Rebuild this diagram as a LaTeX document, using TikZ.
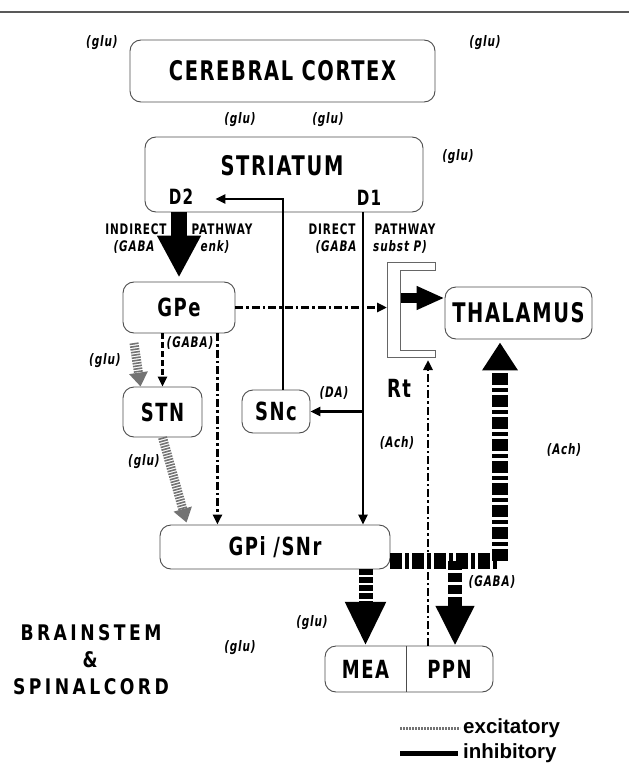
\documentclass[tikz,border=0pt]{standalone}
\usepackage{fontspec}
\setmainfont{DejaVu Sans}
\newfontfamily\diagfont[FakeStretch=0.72, LetterSpace=6]{DejaVu Sans}
\newfontfamily\widefont[FakeStretch=0.8, LetterSpace=16]{DejaVu Sans}
\newfontfamily\legendfont{Liberation Sans}
\usetikzlibrary{arrows.meta,positioning,calc}
\tikzset{
    nucleusbox/.style={draw=black!70, line width=0.9pt, rounded corners=11pt, inner sep=0pt},
    bigname/.style={font=\diagfont\bfseries\fontsize{27}{27}\selectfont, inner sep=0pt},
    nucleusname/.style={font=\diagfont\bfseries\fontsize{25}{25}\selectfont, inner sep=0pt},
    receptorname/.style={font=\diagfont\bfseries\fontsize{21}{21}\selectfont, inner sep=0pt},
    regionname/.style={font=\widefont\bfseries\fontsize{21.5}{21.5}\selectfont, inner sep=0pt},
    pathlabel/.style={font=\diagfont\bfseries\fontsize{14.5}{14.5}\selectfont, inner sep=0pt},
    transmitter/.style={font=\diagfont\bfseries\itshape\fontsize{14.5}{14.5}\selectfont, inner sep=0pt},
    legendtext/.style={font=\legendfont\bfseries\fontsize{20.5}{20.5}\selectfont, inner sep=0pt, anchor=west},
    thinarrow/.style={-{Triangle[length=10pt, width=9pt]}, line width=2.8pt},
    dashdotarrow/.style={thinarrow, dash pattern=on 8pt off 3pt on 2.5pt off 3pt},
    dashedarrow/.style={thinarrow, line width=2.3pt, dash pattern=on 6pt off 3pt},
    fatarrow/.style={line width=#1, line join=miter},
    gababand/.style={line width=16pt, dash pattern=on 12pt off 3pt on 4pt off 3pt},
    excitband/.style={draw=black!55, line width=9pt, dash pattern=on 1.6pt off 1.2pt,
        -{Triangle[length=14pt, width=18pt]}},
    bracketline/.style={draw=black!60, line width=0.9pt}
}

\begin{document}
\begin{tikzpicture}[x=1pt, y=-1pt]
    \useasboundingbox (0,0) rectangle (629,770);
    \draw[black!65, line width=1.2pt] (0,12) -- (629,12);

    % nuclei
    \node[nucleusbox, bigname, minimum width=305pt, minimum height=62pt] (cortex) at (282.5,71) {CEREBRAL CORTEX};
    \node[nucleusbox, minimum width=278pt, minimum height=75pt] (striatum) at (284,174.5) {};
    \node[bigname] (striatumname) at (282,166) {STRIATUM};
    \node[receptorname] (d2) at (181,197) {D2};
    \node[receptorname] (d1) at (369,198) {D1};
    \node[nucleusbox, nucleusname, minimum width=112pt, minimum height=51pt] (gpe) at (179,307.5) {GPe};
    \node[nucleusbox, nucleusname, minimum width=79pt, minimum height=50pt] (stn) at (162.5,412) {STN};
    \node[nucleusbox, nucleusname, minimum width=68pt, minimum height=43pt] (snc) at (276,411.5) {SNc};
    \node[nucleusbox, bigname, minimum width=147pt, minimum height=52pt] (thal) at (518.5,313) {THALAMUS};
    \node[nucleusbox, nucleusname, minimum width=230pt, minimum height=44pt] (gpi) at (275,547) {GPi /SNr};
    \node[nucleusbox, minimum width=168pt, minimum height=46pt] (brainnuclei) at (409,669) {};
    \node[nucleusname, minimum width=81pt, minimum height=46pt] (mea) at (365.5,669) {MEA};
    \node[nucleusname, minimum width=87pt, minimum height=46pt] (ppn) at (449.5,669) {PPN};
    \draw[draw=black!70, line width=0.9pt] (mea.north east) -- (mea.south east);

    % reticular nucleus
    \draw[bracketline] (435,262) -- (387,262) -- (387,357) -- (435,357) -- (435,350)
        -- (400,350) -- (400,270) -- (435,270) -- cycle;
    \coordinate (rtleft) at (387,262);
    \coordinate (rtfoot) at (428,357);
    \coordinate (rtout) at (401,298);
    \node[nucleusname] (rt) at (399,388) {Rt};

    \node[regionname] (brainstem) at (91,633) {BRAINSTEM};
    \node[regionname] (amp) at (90,660) {\&};
    \node[regionname] (spinal) at (91,687) {SPINALCORD};

    % pathway labels
    \node[pathlabel] (indirect) at (136,229) {INDIRECT};
    \node[pathlabel] (indpath) at (222,229) {PATHWAY};
    \node[transmitter] (indgaba) at (134,247) {(GABA};
    \node[transmitter] (indenk) at (215,247) {enk)};
    \node[pathlabel] (direct) at (332,229) {DIRECT};
    \node[pathlabel] (dirpath) at (405,229) {PATHWAY};
    \node[transmitter] (dirgaba) at (336,247) {(GABA};
    \node[transmitter] (dirsubp) at (400,247) {subst P)};

    % transmitters
    \node[transmitter] (glu1) at (102,43) {(glu)};
    \node[transmitter] (glu2) at (485,43) {(glu)};
    \node[transmitter] (glu3) at (240,120) {(glu)};
    \node[transmitter] (glu4) at (328,120) {(glu)};
    \node[transmitter] (glu5) at (458,157) {(glu)};
    \node[transmitter] (glu6) at (105,361) {(glu)};
    \node[transmitter] (glu7) at (144,462) {(glu)};
    \node[transmitter] (glu8) at (312,623) {(glu)};
    \node[transmitter] (glu9) at (240,648) {(glu)};
    \node[transmitter] (gpegaba) at (190,343) {(GABA)};
    \node[transmitter] (da) at (334,393) {(DA)};
    \node[transmitter] (achrt) at (397,443) {(Ach)};
    \node[transmitter] (achthal) at (564,450) {(Ach)};
    \node[transmitter] (gpigaba) at (492,582) {(GABA)};

    % striatal outputs
    \draw[fatarrow=16pt, -{Triangle[length=42pt, width=41pt]}, shorten >=4pt]
        (striatum.south -| gpe.north) -- (gpe.north);
    \coordinate (directx) at (363,212);
    \draw[thinarrow] (directx) -- (directx |- gpi.north);
    \draw[thinarrow] (directx |- snc.east) -- (snc.east);
    \draw[thinarrow] ($(snc.north)+(7,0)$) |- ($(d2.east)+(22,2)$);

    % GPe outputs
    \coordinate (gpeout) at ($(gpe.south east)+(-18,0)$);
    \draw[dashedarrow] (stn.north |- gpe.south) -- (stn.north);
    \draw[dashdotarrow] (gpeout) -- (gpeout |- gpi.north);
    \draw[dashdotarrow] (gpe.east) -- (gpe.east -| rtleft);

    % STN
    \coordinate (stnglu) at (134,343);
    \draw[excitband] (stnglu) -- ($(stn.north west)+(18,0)$);
    \draw[excitband] (stn.south) -- ($(gpi.north west)+(27,-2)$);

    % thalamus inputs
    \draw[fatarrow=10pt, -{Triangle[length=28pt, width=22pt]}] (rtout) -- (thal.west |- rtout);
    \draw[dashdotarrow, shorten >=3pt] (rtfoot |- brainnuclei.north) -- (rtfoot);

    % GPi outputs
    \coordinate (gabaturn) at (500,561);
    \coordinate (ppnbranch) at (455,561);
    \draw[gababand, -{Triangle[length=28pt, width=34pt]}, shorten >=3pt]
        (gpi.east |- gabaturn) -- (gabaturn) -- (gabaturn |- thal.south);
    \draw[fatarrow=14pt, dash pattern=on 9pt off 3pt, -{Triangle[length=40pt, width=36pt]}]
        (ppnbranch) -- (ppnbranch |- ppn.north);
    \draw[fatarrow=14pt, dash pattern=on 6pt off 2pt, -{Triangle[length=44pt, width=38pt]}]
        (gpi.south -| mea.north) -- (mea.north);

    % legend
    \node[legendtext] (excitlbl) at (463,728) {excitatory};
    \node[legendtext] (inhiblbl) at (463,753) {inhibitory};
    \coordinate (excitstart) at (400,728);
    \coordinate (inhibstart) at (400,753);
    \draw[black!55, line width=3pt, dash pattern=on 2pt off 1pt] (excitstart) -- ($(excitlbl.west)+(-3,0)$);
    \draw[line width=5pt] (inhibstart) -- ($(inhiblbl.west)+(-5,0)$);
\end{tikzpicture}
\end{document}
